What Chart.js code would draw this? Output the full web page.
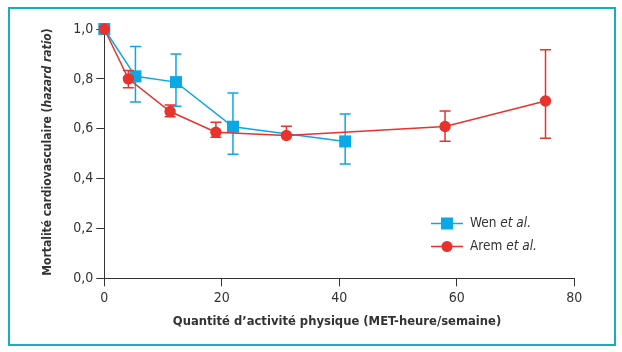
<!DOCTYPE html>
<html><head><meta charset="utf-8">
<script src="https://cdn.jsdelivr.net/npm/chart.js@4/dist/chart.umd.min.js"></script>
<style>
html,body{margin:0;padding:0;background:#fff;}
#wrap{position:relative;width:622px;height:352px;}
canvas{display:block;}
</style>
</head><body>
<div id="wrap"><canvas id="c" width="622" height="352"></canvas></div>
<script>
// ---- data ----
const xTicks = [0, 20, 40, 60, 80];
const yTicks = [0, 0.2, 0.4, 0.6, 0.8, 1.0];
const seriesNames = ["Wen", "Arem"];
const wenX    = [0, 5.3, 12.2, 21.9, 41.0];
const wenY    = [1.0, 0.81, 0.787, 0.608, 0.549];
const wenLow  = [null, 0.707, 0.69, 0.498, 0.458];
const wenHigh = [null, 0.93, 0.90, 0.743, 0.659];
const aremX    = [0, 4.1, 11.2, 19.0, 31.0, 58.0, 75.1];
const aremY    = [1.0, 0.80, 0.669, 0.586, 0.573, 0.609, 0.711];
const aremLow  = [null, 0.764, 0.648, 0.566, null, 0.550, 0.562];
const aremHigh = [null, 0.834, 0.695, 0.626, 0.61, 0.671, 0.917];

const BLUE = '#0ba8e6', RED = '#e8322c', TXT = '#333333';
const FONT = "'Liberation Sans Narrow','DejaVu Sans Condensed',sans-serif";

const toPts = (xs, ys) => xs.map((x, i) => ({x: x, y: ys[i]}));

const errorBars = {
  id: 'errorBars',
  beforeDatasetDraw(chart, args) {
    const ds = chart.data.datasets[args.index];
    const xs = chart.scales.x, ys = chart.scales.y, ctx = chart.ctx;
    ctx.save();
    ctx.strokeStyle = ds.borderColor; ctx.lineWidth = 1.5;
    ds.data.forEach((p, i) => {
      const lo = ds.errLow[i], hi = ds.errHigh[i];
      if (lo == null && hi == null) return;
      const px = xs.getPixelForValue(p.x);
      const yTop = ys.getPixelForValue(hi == null ? p.y : hi);
      const yBot = ys.getPixelForValue(lo == null ? p.y : lo);
      ctx.beginPath();
      ctx.moveTo(px, yTop); ctx.lineTo(px, yBot);
      if (hi != null) { ctx.moveTo(px - 5.5, yTop); ctx.lineTo(px + 5.5, yTop); }
      if (lo != null) { ctx.moveTo(px - 5.5, yBot); ctx.lineTo(px + 5.5, yBot); }
      ctx.stroke();
    });
    ctx.restore();
  }
};

const decor = {
  id: 'decor',
  afterDraw(chart) {
    const ctx = chart.ctx;
    ctx.save();
    // frame
    ctx.strokeStyle = '#17adc1'; ctx.lineWidth = 2;
    ctx.strokeRect(9, 8, 606, 337);
    // legend
    const items = [
      {name: seriesNames[0], color: BLUE, style: 'rect', y: 223.5},
      {name: seriesNames[1], color: RED, style: 'circle', y: 246.5}
    ];
    items.forEach(it => {
      ctx.strokeStyle = it.color; ctx.lineWidth = 1.5;
      ctx.beginPath(); ctx.moveTo(431, it.y); ctx.lineTo(463, it.y); ctx.stroke();
      ctx.fillStyle = it.color;
      if (it.style === 'rect') ctx.fillRect(441, it.y - 6, 12, 12);
      else { ctx.beginPath(); ctx.arc(447, it.y, 5.5, 0, Math.PI * 2); ctx.fill(); }
      ctx.fillStyle = TXT; ctx.textBaseline = 'middle'; ctx.textAlign = 'left';
      ctx.font = "13.5px " + FONT;
      const t1 = it.name + ' ';
      ctx.fillText(t1, 470, it.y);
      const w1 = ctx.measureText(t1).width;
      ctx.font = "italic 13.5px " + FONT;
      ctx.fillText('et al.', 470 + w1, it.y);
    });
    // x title
    ctx.fillStyle = TXT; ctx.textAlign = 'center'; ctx.textBaseline = 'middle';
    ctx.font = "bold 12.9px " + FONT;
    ctx.fillText("Quantité d’activité physique (MET-heure/semaine)", 337, 322);
    // y title (mixed style)
    const parts = [
      {t: "Mortalité cardiovasculaire (", f: "bold 12px " + FONT},
      {t: "hazard ratio", f: "italic bold 12px " + FONT},
      {t: ")", f: "bold 12px " + FONT}
    ];
    let total = 0;
    parts.forEach(p => { ctx.font = p.f; p.w = ctx.measureText(p.t).width; total += p.w; });
    ctx.translate(48, 152); ctx.rotate(-Math.PI / 2);
    ctx.textAlign = 'left';
    let x0 = -total / 2;
    parts.forEach(p => { ctx.font = p.f; ctx.fillText(p.t, x0, 0); x0 += p.w; });
    ctx.restore();
  }
};

new Chart(document.getElementById('c'), {
  type: 'scatter',
  data: {
    datasets: [
      {label: seriesNames[0], data: toPts(wenX, wenY), errLow: wenLow, errHigh: wenHigh,
       showLine: true, borderColor: BLUE, backgroundColor: BLUE, borderWidth: 1.5,
       pointStyle: 'rect', pointRadius: 8.5, pointHoverRadius: 8.5, pointBorderWidth: 0,
       clip: false, order: 1},
      {label: seriesNames[1], data: toPts(aremX, aremY), errLow: aremLow, errHigh: aremHigh,
       showLine: true, borderColor: RED, backgroundColor: RED, borderWidth: 1.5,
       pointStyle: 'circle', pointRadius: 5.7, pointHoverRadius: 5.7, pointBorderWidth: 0,
       clip: false, order: 0}
    ]
  },
  options: {
    responsive: false, animation: false, devicePixelRatio: 1,
    layout: {padding: {left: 0, right: 47.7, top: 29, bottom: 0}},
    plugins: {legend: {display: false}, tooltip: {enabled: false}},
    scales: {
      x: {
        type: 'linear', min: 0, max: 80,
        afterBuildTicks: s => { s.ticks = xTicks.map(v => ({value: v})); },
        afterFit: s => { s.height = 73.7; },
        grid: {drawOnChartArea: false, drawTicks: true, tickLength: 8, color: '#333', lineWidth: 1},
        border: {display: true, color: '#333', width: 1},
        ticks: {color: TXT, font: {family: FONT, size: 14}, padding: 4, maxRotation: 0}
      },
      y: {
        type: 'linear', min: 0, max: 1,
        afterBuildTicks: s => { s.ticks = yTicks.map(v => ({value: v})); },
        afterFit: s => { s.width = 104.3; },
        grid: {drawOnChartArea: false, drawTicks: true, tickLength: 8, color: '#333', lineWidth: 1},
        border: {display: true, color: '#333', width: 1},
        ticks: {color: TXT, font: {family: FONT, size: 14}, padding: 3,
                callback: v => v.toFixed(1).replace('.', ',')}
      }
    }
  },
  plugins: [errorBars, decor]
});
</script>
</body></html>
